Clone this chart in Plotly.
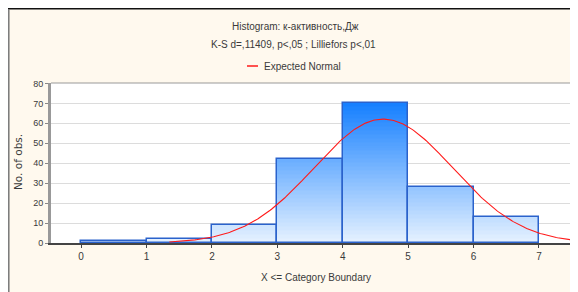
import numpy as np
import plotly.graph_objects as go

# ---- data ----
bin_lower = [0, 1, 2, 3, 4, 5, 6]
bin_upper = [1, 2, 3, 4, 5, 6, 7]
counts = [1, 2, 9, 42, 70, 28, 13]
x_ticks = [0, 1, 2, 3, 4, 5, 6, 7]
y_ticks = [0, 10, 20, 30, 40, 50, 60, 70, 80]
normal_mean = 4.62
normal_sd = 1.06
curve_start, curve_end = 1.35, 7.49

title_lines = ["Histogram: к-активность,Дж", "K-S d=,11409, p<,05 ; Lilliefors p<,01"]
legend_label = "Expected Normal"
x_title = "X <= Category Boundary"
y_title = "No. of obs."

FONT = "Liberation Sans Narrow, Liberation Sans, Arial, sans-serif"
TXT = "#3a3a3a"
BG = "#fff9ee"

# page body has an 8px margin; figure is placed at (8, 8)
OFF = 8
W, H = 570, 284
L, R, T, B = 51 - OFF, W - (571 - OFF), 83 - OFF, H - (243 - OFF)
pw, ph = W - L - R, H - T - B


def px_x(p):  # reference pixel -> paper x
    return (p - OFF - L) / pw


def px_y(p):  # reference pixel -> paper y
    return (H - B - (p - OFF)) / ph


centers = [(a + b) / 2 for a, b in zip(bin_lower, bin_upper)]
widths = [b - a for a, b in zip(bin_lower, bin_upper)]

fig = go.Figure()

# gradient layers (colour depends on absolute y)
top_c = np.array([22, 128, 255])
bot_c = np.array([232, 243, 255])
step = 1.0
nlayers = 72
for k in range(nlayers):
    lo = k * step
    t = min(1.0, (lo + step / 2) / 70.0)
    c = bot_c + (top_c - bot_c) * t
    col = "rgb(%d,%d,%d)" % tuple(c.astype(int))
    h = [max(0.0, min(step, v - lo)) for v in counts]
    if max(h) <= 0:
        continue
    fig.add_trace(go.Bar(x=centers, y=h, base=[lo] * len(h), width=widths,
                         marker=dict(color=col, line=dict(width=0)),
                         showlegend=False, hoverinfo="skip"))

# outline
fig.add_trace(go.Bar(x=centers, y=counts, width=widths,
                     marker=dict(color="rgba(0,0,0,0)", line=dict(color="#2a62cc", width=1.5)),
                     showlegend=False))

# expected normal curve
xs = np.linspace(curve_start, curve_end, 300)
n_total = sum(counts)
ys = n_total * 1.0 / (normal_sd * np.sqrt(2 * np.pi)) * np.exp(-0.5 * ((xs - normal_mean) / normal_sd) ** 2)
fig.add_trace(go.Scatter(x=xs, y=ys, mode="lines", line=dict(color="#ff1a1a", width=1.1),
                         name=legend_label, showlegend=False))

shapes = [
    # black rule at top of panel
    dict(type="line", xref="paper", yref="paper", x0=px_x(OFF), x1=px_x(OFF + W), y0=px_y(8.5), y1=px_y(8.5),
         line=dict(color="#111", width=2)),
    dict(type="line", xref="paper", yref="paper", x0=px_x(8.8), x1=px_x(8.8), y0=px_y(9), y1=px_y(OFF + H),
         line=dict(color="#777", width=1.5)),
    # plot frame
    dict(type="line", xref="paper", yref="paper", x0=0, x1=1, y0=1, y1=1,
         line=dict(color="#999", width=1)),
    dict(type="line", xref="paper", yref="paper", x0=1, x1=1, y0=0, y1=1,
         line=dict(color="#888", width=1.5)),
    # legend sample line
    dict(type="line", xref="paper", yref="paper", x0=px_x(247), x1=px_x(258), y0=px_y(66), y1=px_y(66),
         line=dict(color="#ff1a1a", width=1.5)),
]

tf = dict(family=FONT, size=10, color=TXT)
annotations = [
    dict(text=title_lines[0], xref="paper", yref="paper", x=px_x(295), y=px_y(27),
         xanchor="center", yanchor="middle", showarrow=False, font=tf),
    dict(text=title_lines[1], xref="paper", yref="paper", x=px_x(293), y=px_y(44),
         xanchor="center", yanchor="middle", showarrow=False, font=tf),
    dict(text=legend_label, xref="paper", yref="paper", x=px_x(262), y=px_y(66),
         xanchor="left", yanchor="middle", showarrow=False, font=tf),
    dict(text=x_title, xref="paper", yref="paper", x=px_x(316), y=px_y(277),
         xanchor="center", yanchor="middle", showarrow=False, font=tf),
    dict(text=y_title, xref="paper", yref="paper", x=px_x(18), y=px_y(162), textangle=-90,
         xanchor="center", yanchor="middle", showarrow=False,
         font=dict(family="DejaVu Sans, Arial", size=10.5, color=TXT)),
]

fig.update_layout(
    width=W, height=H,
    margin=dict(l=L, r=R, t=T, b=B, autoexpand=False),
    paper_bgcolor=BG, plot_bgcolor="white",
    barmode="overlay", bargap=0,
    font=tf,
    showlegend=False,
    shapes=shapes, annotations=annotations,
    xaxis=dict(range=[-0.46, 7.49], tickvals=x_ticks, ticktext=[str(v) for v in x_ticks],
               showgrid=False, zeroline=False, showline=True, linecolor="#444", linewidth=2,
               ticks="outside", ticklen=3, tickcolor="#444", automargin=False,
               tickfont=tf),
    yaxis=dict(range=[0, 80.2], tickvals=y_ticks, ticktext=[str(v) for v in y_ticks],
               showgrid=True, gridcolor="#dcdcdc", gridwidth=1, zeroline=False,
               showline=True, linecolor="#999", linewidth=3, automargin=False,
               ticks="outside", ticklen=3, tickcolor="#888",
               tickfont=dict(family=FONT, size=9, color=TXT)),
)

fig.write_html("out.html")
